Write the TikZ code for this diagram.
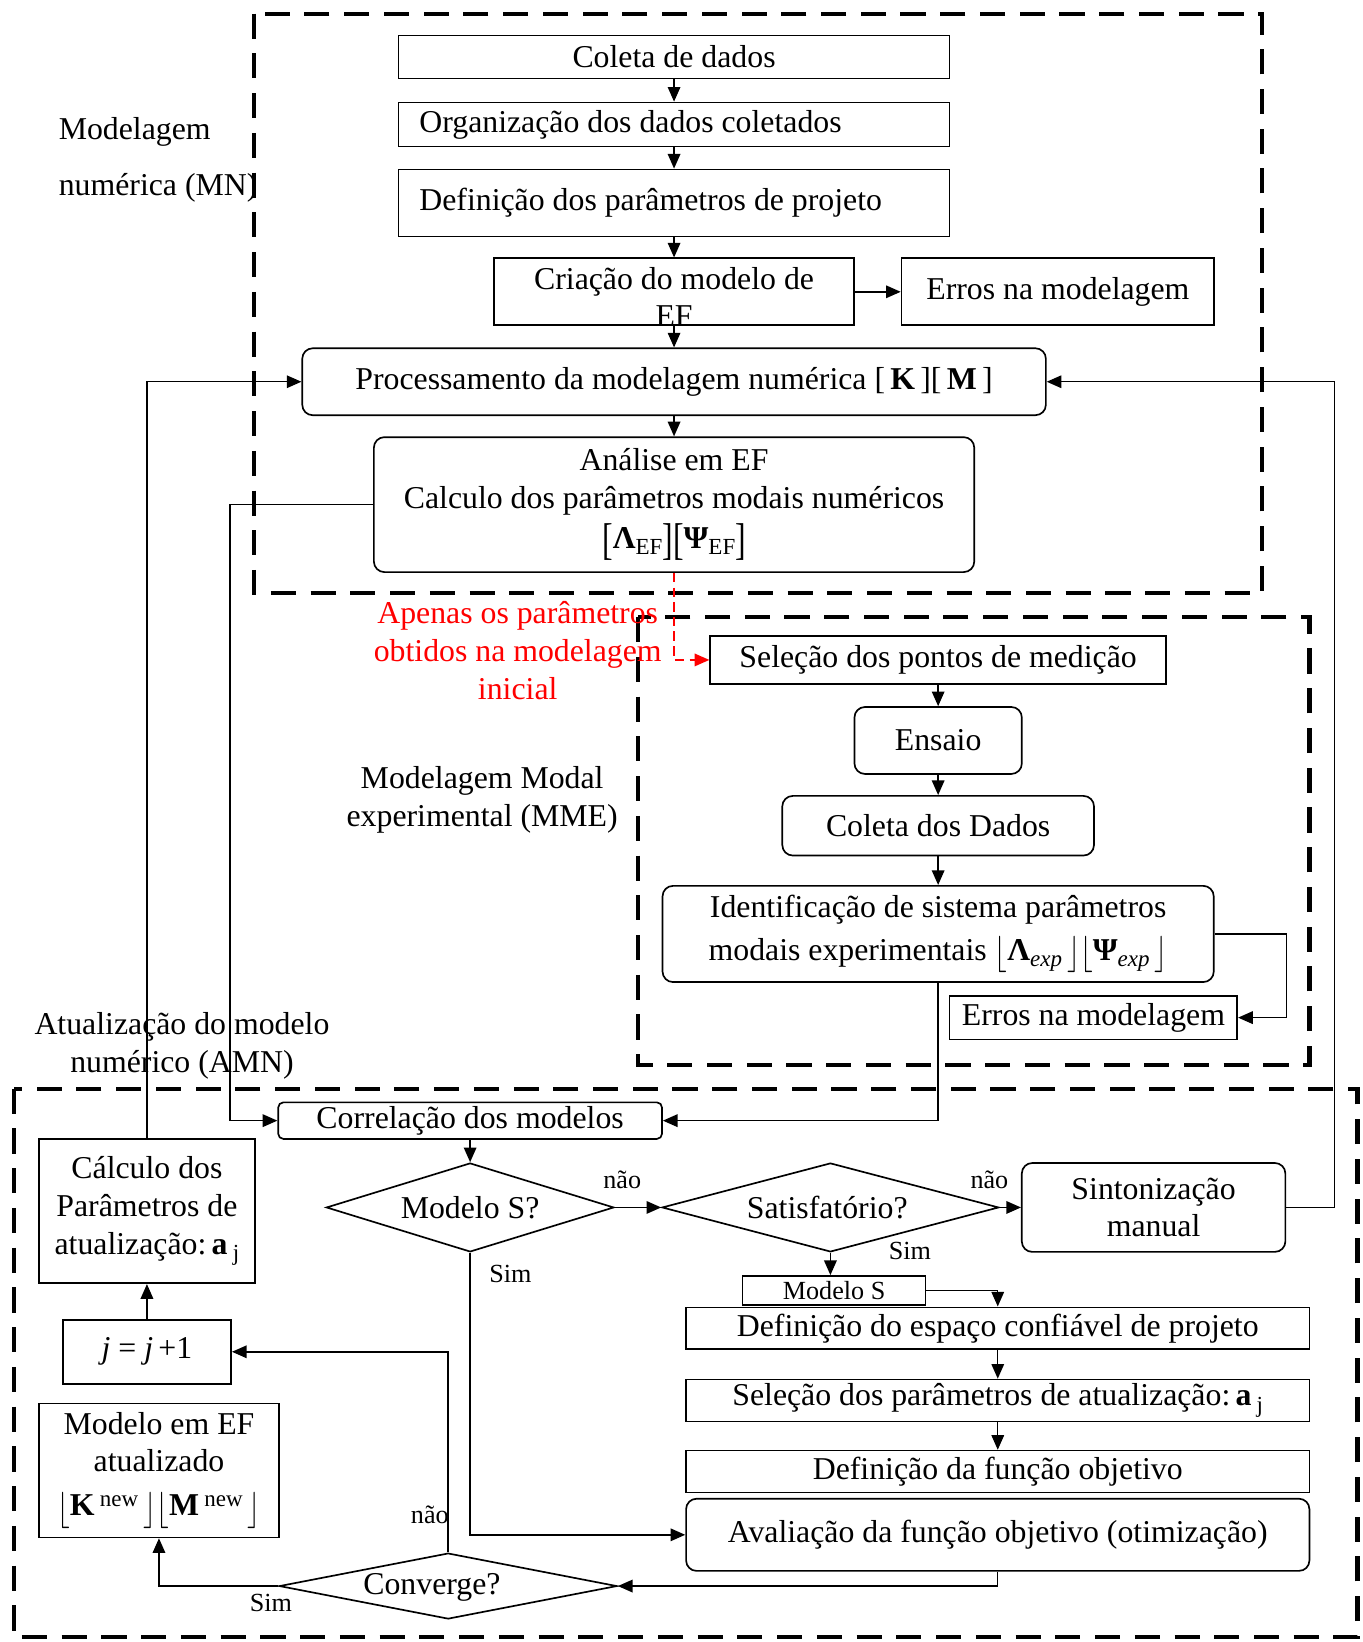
\documentclass[tikz,border=0pt]{standalone}
\usepackage{fontspec}
\usepackage{graphicx}
\setmainfont{Liberation Serif}
\usetikzlibrary{shapes.geometric,arrows.meta}
\newcommand{\lbk}{\raisebox{-0.2em}{\scalebox{1}[1.4]{[}}}
\newcommand{\rbk}{\raisebox{-0.2em}{\scalebox{1}[1.4]{]}}}
\newcommand{\lfl}{\raisebox{-0.12em}{\scalebox{1.1}[1.4]{$\lfloor$}}}
\newcommand{\rfl}{\raisebox{-0.12em}{\scalebox{1.1}[1.4]{$\rfloor$}}}
\newcommand{\idx}[1]{\raisebox{-6pt}{\fontsize{22}{22}\selectfont #1}}
\newcommand{\supx}[1]{\raisebox{9pt}{\fontsize{22}{22}\selectfont #1}}
\begin{document}
\begin{tikzpicture}[x=1pt,y=-1pt, font=\fontsize{30.4}{36}\selectfont,
  box/.style={draw, line width=1.6pt, inner sep=0pt, align=center},
  rbox/.style={box, rounded corners=10pt},
  dia/.style={draw, diamond, line width=1.6pt, inner sep=0pt},
  txt/.style={inner sep=0pt, align=center},
  lbl/.style={inner sep=0pt, font=\fontsize{25}{30}\selectfont},
  arr/.style={line width=1.4pt, -{Triangle[length=14pt,width=12pt]}},
  zone/.style={line width=4pt, dash pattern=on 24pt off 14pt}]
\useasboundingbox (0,0) rectangle (1303.2,1570);
\draw[zone] (243,13) rectangle (1207,567);
\draw[zone] (610,590) rectangle (1252,1018);
\draw[zone] (13,1041) rectangle (1298,1565);
\node[txt, align=left, anchor=west, font=\fontsize{30.4}{53}\selectfont] (mn) at (56,153) {Modelagem\\numérica (MN)};
\node[txt] (mme) at (461,765) {Modelagem Modal\\experimental (MME)};
\node[txt] (amn) at (174,1000) {Atualização do modelo\\numérico (AMN)};
\node[txt, red] (apenas) at (495,622) {Apenas os parâmetros\\obtidos na modelagem\\inicial};
\node[box, minimum width=527pt, minimum height=41pt] (coleta) at (644.5,54.5) {Coleta de dados};
\node[box, minimum height=42pt, text width=487pt, inner xsep=20pt, align=flush left] (organiza) at (644.5,119) {Organização dos dados coletados};
\node[box, minimum height=64pt, text width=487pt, inner xsep=20pt, align=flush left] (parametros) at (644.5,194) {Definição dos parâmetros de projeto};
\node[box, minimum width=344pt, minimum height=64pt] (criacao) at (644.5,279) {};
\node[txt] (criacaotxt) at (644.5,284) {Criação do modelo de\\EF};
\node[box, minimum width=299pt, minimum height=64pt] (errosmn) at (1011.5,279) {Erros na modelagem};
\node[rbox, minimum width=711pt, minimum height=64pt] (processa) at (644.5,365) {Processamento da modelagem numérica [\,\textbf{K}\,][\,\textbf{M}\,]};
\node[rbox, minimum width=574pt, minimum height=129pt] (analise) at (644.5,482.5) {Análise em EF\\Calculo dos parâmetros modais numéricos\\[2pt]\lbk\textbf{Λ}\idx{EF}\rbk\lbk\textbf{Ψ}\idx{EF}\rbk};
\node[box, minimum width=436pt, minimum height=46pt] (selecao) at (897,631) {Seleção dos pontos de medição};
\node[rbox, minimum width=160pt, minimum height=64pt] (ensaio) at (897,708) {Ensaio};
\node[rbox, minimum width=298pt, minimum height=57pt] (coletadados) at (897,789.5) {Coleta dos Dados};
\node[rbox, minimum width=527pt, minimum height=92pt] (identifica) at (897,893) {Identificação de sistema parâmetros\\[5pt]modais experimentais \lfl\textbf{Λ}\idx{\textit{exp}}\,\rfl\lfl\textbf{Ψ}\idx{\textit{exp}}\,\rfl};
\node[box, minimum width=275pt, minimum height=42pt] (errosmme) at (1045.5,973) {Erros na modelagem};
\node[rbox, rounded corners=5pt, minimum width=367pt, minimum height=35pt] (correlacao) at (449.5,1071.5) {Correlação dos modelos};
\node[dia, minimum width=275pt, minimum height=85pt] (modelos) at (449.5,1154.5) {};
\node[txt] (modelostxt) at (449.5,1154.5) {Modelo S?};
\node[dia, minimum width=322pt, minimum height=85pt] (satisfaz) at (794,1154.5) {};
\node[txt] (satisfaztxt) at (791,1154.5) {Satisfatório?};
\node[rbox, minimum width=252pt, minimum height=85pt] (sintoniza) at (1103,1154.5) {Sintonização\\manual};
\node[box, font=\fontsize{25}{30}\selectfont, minimum width=175pt, minimum height=28pt] (modelosbox) at (797.5,1234) {Modelo S};
\node[box, minimum width=596pt, minimum height=40pt] (espaco) at (954,1270) {Definição do espaço confiável de projeto};
\node[box, minimum width=596pt, minimum height=40pt] (selpar) at (954,1339) {Seleção dos parâmetros de atualização:\,\textbf{a}\,\idx{j}};
\node[box, minimum width=596pt, minimum height=40pt] (funcao) at (954,1407) {Definição da função objetivo};
\node[rbox, minimum width=596pt, minimum height=69pt] (avalia) at (954,1467.5) {Avaliação da função objetivo (otimização)};
\node[dia, minimum width=323pt, minimum height=63pt] (converge) at (428.5,1516.5) {};
\node[txt] (convergetxt) at (413,1518) {Converge?};
\node[box, minimum width=161pt, minimum height=61pt] (incremento) at (140.5,1292.5) {\textit{j} = \textit{j}\,+1};
\node[box, minimum width=206pt, minimum height=138pt] (calculo) at (140.5,1158) {Cálculo dos\\Parâmetros de\\atualização:\,\textbf{a}\,\idx{j}};
\node[box, minimum width=230pt, minimum height=128pt] (modeloef) at (152,1406) {Modelo em EF\\atualizado\\[6pt]\lfl\textbf{K}\,\supx{new}\,\rfl\lfl\textbf{M}\,\supx{new}\,\rfl};
\node[lbl] (nao1) at (595,1128) {não};
\node[lbl] (nao2) at (946,1128) {não};
\node[lbl] (sim1) at (488,1218) {Sim};
\node[lbl] (sim2) at (870,1196) {Sim};
\node[lbl] (nao3) at (411,1448) {não};
\node[lbl] (sim3) at (259,1533) {Sim};
\draw[arr](coleta) -- (organiza);
\draw[arr](organiza) -- (parametros);
\draw[arr](parametros) -- (criacao);
\draw[arr](criacao) -- (processa);
\draw[arr](criacao) -- (errosmn);
\draw[arr](processa) -- (analise);
\draw[arr, red, dash pattern=on 9pt off 5pt](analise.south) |- (selecao.west);
\draw[arr](selecao) -- (ensaio);
\draw[arr](ensaio) -- (coletadados);
\draw[arr](coletadados) -- (identifica);
\draw[arr](identifica.east) -- ++(69,0) |- (errosmme.east);
\draw[arr](identifica.south) |- (correlacao.east);
\draw[arr](analise.west) -- ++(-137,0) |- (correlacao.west);
\draw[arr](calculo.north) |- (processa.west);
\draw[arr](sintoniza.east) -- ++(46,0) |- (processa.east);
\draw[arr](correlacao) -- (modelos.north);
\draw[arr](modelos.east) -- (satisfaz.west);
\draw[arr](satisfaz.east) -- (sintoniza.west);
\draw[arr](satisfaz.south) -- (satisfaz.south |- modelosbox.north);
\draw[arr](modelosbox.east) -| (espaco.north);
\draw[arr](espaco) -- (selpar);
\draw[arr](selpar) -- (funcao);
\draw[arr](modelos.south) |- (avalia.west);
\draw[arr](avalia.south) |- (converge.east);
\draw[arr](converge.north) |- (incremento.east);
\draw[arr](incremento) -- (calculo);
\draw[arr](converge.west) -| (modeloef.south);
\end{tikzpicture}
\end{document}
